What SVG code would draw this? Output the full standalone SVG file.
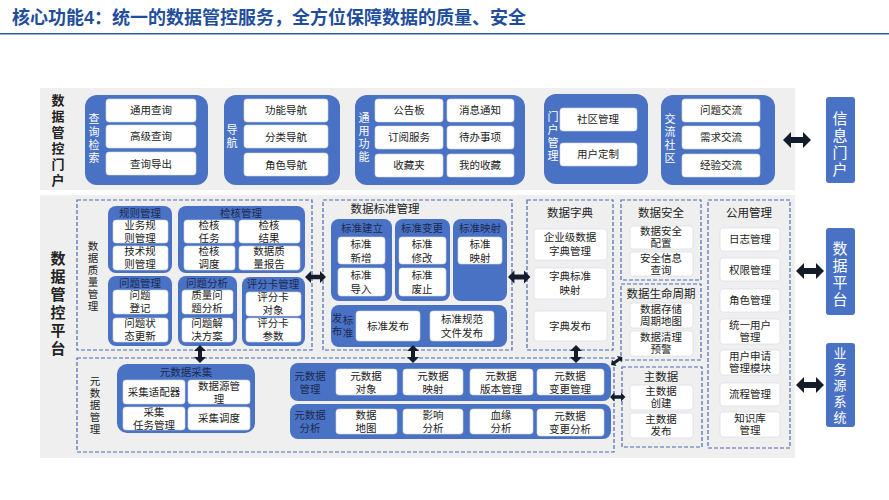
<svg xmlns="http://www.w3.org/2000/svg" width="889" height="500" viewBox="0 0 889 500">
<defs>
<style>
text{font-family:"Liberation Sans","Noto Sans CJK SC",sans-serif;text-anchor:middle;dominant-baseline:central}
.bg{fill:#efefef}
.p{fill:#4a72c4}
.w{fill:#fff;stroke:#d0d6e2;stroke-width:.6}
.t{font-size:10.5px;fill:#222}
.pl{font-size:11px;fill:#fff}
.pt{font-size:10.5px;fill:#1b2a50}
.d{fill:none;stroke:#4a6cb0;stroke-width:1.2;stroke-dasharray:4 2}
.sec{font-size:11.5px;fill:#222}
.big{font-size:15px;font-weight:bold;fill:#222}
.side{fill:#4a72c4}
.st{font-size:15px;fill:#fff}
.ar{fill:#141c2c}
</style>
<path id="dh" d="M0,0 l8,-8 v5 h12 v-5 l8,8 l-8,8 v-5 h-12 v5 z"/>
<path id="dv" d="M0,0 l-6,6 h4 v6 h-4 l6,6 l6,-6 h-4 v-6 h4 z"/>
</defs>
<rect width="889" height="500" fill="#fff"/>
<text x="12" y="18" style="text-anchor:start;font-size:18px;font-weight:bold;fill:#1f4e9c">核心功能4：统一的数据管控服务，全方位保障数据的质量、安全</text>
<rect x="0" y="33" width="889" height="1.5" fill="#2a5aa8"/>

<g id="portal">
<rect class="bg" x="40" y="88" width="755" height="102"/>
<text class="big" style="font-size:13px"><tspan x="58" y="100">数</tspan><tspan x="58" y="116">据</tspan><tspan x="58" y="132">管</tspan><tspan x="58" y="148">控</tspan><tspan x="58" y="164">门</tspan><tspan x="58" y="180">户</tspan></text>
</g>
<g id="query">
<rect class="p" x="85" y="95" width="123" height="90" rx="12"/>
<text class="pl"><tspan x="94" y="119">查</tspan><tspan x="94" y="132">询</tspan><tspan x="94" y="145">检</tspan><tspan x="94" y="158">索</tspan></text>
<rect class="w" x="106" y="99" width="90" height="23" rx="3"/><text class="t" x="151" y="110">通用查询</text>
<rect class="w" x="106" y="125" width="90" height="23" rx="3"/><text class="t" x="151" y="136">高级查询</text>
<rect class="w" x="106" y="152" width="90" height="23" rx="3"/><text class="t" x="151" y="164">查询导出</text>
</g>
<g id="nav">
<rect class="p" x="224" y="95" width="116" height="90" rx="12"/>
<text class="pl"><tspan x="232" y="130">导</tspan><tspan x="232" y="143">航</tspan></text>
<rect class="w" x="244" y="99" width="84" height="23" rx="3"/><text class="t" x="286" y="110">功能导航</text>
<rect class="w" x="244" y="125" width="84" height="23" rx="3"/><text class="t" x="286" y="137">分类导航</text>
<rect class="w" x="244" y="153" width="84" height="23" rx="3"/><text class="t" x="286" y="165">角色导航</text>
</g>
<g id="common">
<rect class="p" x="355" y="95" width="170" height="90" rx="12"/>
<text class="pl"><tspan x="364" y="118">通</tspan><tspan x="364" y="131">用</tspan><tspan x="364" y="144">功</tspan><tspan x="364" y="157">能</tspan></text>
<rect class="w" x="375" y="99" width="68" height="23" rx="3"/><text class="t" x="409" y="110">公告板</text>
<rect class="w" x="447" y="99" width="67" height="23" rx="3"/><text class="t" x="480" y="110">消息通知</text>
<rect class="w" x="375" y="126" width="68" height="23" rx="3"/><text class="t" x="409" y="137">订阅服务</text>
<rect class="w" x="447" y="126" width="67" height="23" rx="3"/><text class="t" x="480" y="137">待办事项</text>
<rect class="w" x="375" y="154" width="68" height="23" rx="3"/><text class="t" x="409" y="165">收藏夹</text>
<rect class="w" x="447" y="154" width="67" height="23" rx="3"/><text class="t" x="480" y="165">我的收藏</text>
</g>
<g id="portalmgmt">
<rect class="p" x="544" y="94" width="104" height="90" rx="12"/>
<text class="pl"><tspan x="553" y="117">门</tspan><tspan x="553" y="130">户</tspan><tspan x="553" y="143">管</tspan><tspan x="553" y="156">理</tspan></text>
<rect class="w" x="560" y="108" width="77" height="23" rx="3"/><text class="t" x="598" y="119">社区管理</text>
<rect class="w" x="560" y="143" width="77" height="23" rx="3"/><text class="t" x="598" y="154">用户定制</text>
</g>
<g id="community">
<rect class="p" x="661" y="95" width="114" height="90" rx="12"/>
<text class="pl"><tspan x="670" y="119">交</tspan><tspan x="670" y="132">流</tspan><tspan x="670" y="145">社</tspan><tspan x="670" y="158">区</tspan></text>
<rect class="w" x="682" y="99" width="78" height="23" rx="3"/><text class="t" x="721" y="110">问题交流</text>
<rect class="w" x="682" y="126" width="78" height="23" rx="3"/><text class="t" x="721" y="137">需求交流</text>
<rect class="w" x="682" y="154" width="78" height="23" rx="3"/><text class="t" x="721" y="165">经验交流</text>
</g>
<g id="infoportal">
<rect class="side" x="826" y="97" width="29" height="86" rx="3"/>
<text class="st"><tspan x="840" y="118">信</tspan><tspan x="840" y="135">息</tspan><tspan x="840" y="152">门</tspan><tspan x="840" y="169">户</tspan></text>
</g>

<g id="platform">
<rect class="bg" x="40" y="195" width="755" height="263"/>
<text class="big"><tspan x="58" y="258">数</tspan><tspan x="58" y="276">据</tspan><tspan x="58" y="294">管</tspan><tspan x="58" y="312">控</tspan><tspan x="58" y="330">平</tspan><tspan x="58" y="348">台</tspan></text>
</g>

<g id="quality">
<rect class="d" x="77" y="200" width="235" height="150"/>
<text class="t"><tspan x="93" y="246">数</tspan><tspan x="93" y="258">据</tspan><tspan x="93" y="270">质</tspan><tspan x="93" y="282">量</tspan><tspan x="93" y="294">管</tspan><tspan x="93" y="306">理</tspan></text>
<rect class="p" x="108" y="206" width="64" height="67" rx="8"/><text class="pt" x="140" y="213">规则管理</text>
<rect class="w" x="113" y="220" width="55" height="23" rx="3"/><text class="t"><tspan x="140" y="225">业务规</tspan><tspan x="140" y="238">则管理</tspan></text>
<rect class="w" x="113" y="246" width="55" height="24" rx="3"/><text class="t"><tspan x="140" y="251">技术规</tspan><tspan x="140" y="264">则管理</tspan></text>
<rect class="p" x="178" y="206" width="127" height="67" rx="8"/><text class="pt" x="241" y="213">检核管理</text>
<rect class="w" x="184" y="220" width="51" height="23" rx="3"/><text class="t"><tspan x="209" y="225">检核</tspan><tspan x="209" y="238">任务</tspan></text>
<rect class="w" x="239" y="220" width="61" height="23" rx="3"/><text class="t"><tspan x="269" y="225">检核</tspan><tspan x="269" y="238">结果</tspan></text>
<rect class="w" x="184" y="246" width="51" height="24" rx="3"/><text class="t"><tspan x="209" y="251">检核</tspan><tspan x="209" y="264">调度</tspan></text>
<rect class="w" x="239" y="246" width="61" height="24" rx="3"/><text class="t"><tspan x="269" y="251">数据质</tspan><tspan x="269" y="264">量报告</tspan></text>
<rect class="p" x="108" y="276" width="64" height="70" rx="8"/><text class="pt" x="140" y="283">问题管理</text>
<rect class="w" x="113" y="290" width="55" height="24" rx="3"/><text class="t"><tspan x="140" y="295">问题</tspan><tspan x="140" y="308">登记</tspan></text>
<rect class="w" x="113" y="318" width="55" height="24" rx="3"/><text class="t"><tspan x="140" y="323">问题状</tspan><tspan x="140" y="336">态更新</tspan></text>
<rect class="p" x="178" y="276" width="59" height="70" rx="8"/><text class="pt" x="207" y="283">问题分析</text>
<rect class="w" x="182" y="290" width="51" height="24" rx="3"/><text class="t"><tspan x="207" y="295">质量问</tspan><tspan x="207" y="308">题分析</tspan></text>
<rect class="w" x="182" y="318" width="51" height="24" rx="3"/><text class="t"><tspan x="207" y="323">问题解</tspan><tspan x="207" y="336">决方案</tspan></text>
<rect class="p" x="242" y="277" width="63" height="69" rx="8"/><text class="pt" x="273" y="284">评分卡管理</text>
<rect class="w" x="246" y="292" width="55" height="24" rx="3"/><text class="t"><tspan x="273" y="297">评分卡</tspan><tspan x="273" y="310">对象</tspan></text>
<rect class="w" x="246" y="318" width="55" height="24" rx="3"/><text class="t"><tspan x="273" y="323">评分卡</tspan><tspan x="273" y="336">参数</tspan></text>
</g>

<g id="standard">
<rect class="d" x="323" y="200" width="189" height="150"/>
<text class="sec" x="385" y="209">数据标准管理</text>
<rect class="p" x="331" y="219" width="61" height="82" rx="8"/><text class="pt" x="362" y="228">标准建立</text>
<rect class="w" x="338" y="237" width="47" height="27" rx="3"/><text class="t"><tspan x="361" y="244">标准</tspan><tspan x="361" y="258">新增</tspan></text>
<rect class="w" x="338" y="268" width="47" height="28" rx="3"/><text class="t"><tspan x="361" y="275">标准</tspan><tspan x="361" y="289">导入</tspan></text>
<rect class="p" x="395" y="219" width="55" height="82" rx="8"/><text class="pt" x="422" y="228">标准变更</text>
<rect class="w" x="399" y="237" width="47" height="27" rx="3"/><text class="t"><tspan x="422" y="244">标准</tspan><tspan x="422" y="258">修改</tspan></text>
<rect class="w" x="399" y="268" width="47" height="28" rx="3"/><text class="t"><tspan x="422" y="275">标准</tspan><tspan x="422" y="289">废止</tspan></text>
<rect class="p" x="453" y="219" width="54" height="82" rx="8"/><text class="pt" x="480" y="228">标准映射</text>
<rect class="w" x="458" y="237" width="44" height="27" rx="3"/><text class="t"><tspan x="480" y="244">标准</tspan><tspan x="480" y="258">映射</tspan></text>
<rect class="p" x="331" y="305" width="176" height="42" rx="8"/>
<text class="pt"><tspan x="337" y="318">发</tspan><tspan x="337" y="331">布</tspan></text>
<text class="pt"><tspan x="348" y="320">标</tspan><tspan x="348" y="333">准</tspan></text>
<rect class="w" x="356" y="311" width="64" height="30" rx="3"/><text class="t" x="388" y="326">标准发布</text>
<rect class="w" x="430" y="311" width="64" height="30" rx="3"/><text class="t"><tspan x="462" y="319">标准规范</tspan><tspan x="462" y="333">文件发布</tspan></text>
</g>

<g id="dictionary">
<rect class="d" x="527" y="200" width="86" height="150"/>
<text class="sec" x="570" y="213">数据字典</text>
<rect class="w" x="534" y="229" width="73" height="31" rx="3"/><text class="t"><tspan x="570" y="237">企业级数据</tspan><tspan x="570" y="251">字典管理</tspan></text>
<rect class="w" x="534" y="268" width="73" height="31" rx="3"/><text class="t"><tspan x="570" y="276">字典标准</tspan><tspan x="570" y="290">映射</tspan></text>
<rect class="w" x="534" y="311" width="73" height="30" rx="3"/><text class="t" x="570" y="326">字典发布</text>
</g>

<g id="security">
<rect class="d" x="621" y="200" width="80" height="80"/>
<text class="sec" x="661" y="213">数据安全</text>
<rect class="w" x="630" y="226" width="63" height="23" rx="3"/><text class="t"><tspan x="661" y="231">数据安全</tspan><tspan x="661" y="243">配置</tspan></text>
<rect class="w" x="630" y="252" width="63" height="24" rx="3"/><text class="t"><tspan x="661" y="258">安全信息</tspan><tspan x="661" y="270">查询</tspan></text>
</g>
<g id="lifecycle">
<rect class="d" x="621" y="284" width="80" height="76"/>
<text class="sec" x="661" y="294">数据生命周期</text>
<rect class="w" x="630" y="303" width="63" height="25" rx="3"/><text class="t"><tspan x="661" y="309">数据存储</tspan><tspan x="661" y="321">周期地图</tspan></text>
<rect class="w" x="630" y="331" width="63" height="25" rx="3"/><text class="t"><tspan x="661" y="337">数据清理</tspan><tspan x="661" y="349">预警</tspan></text>
</g>
<g id="master">
<rect class="d" x="622" y="367" width="80" height="80"/>
<text class="sec" x="661" y="377">主数据</text>
<rect class="w" x="630" y="385" width="63" height="25" rx="3"/><text class="t"><tspan x="661" y="391">主数据</tspan><tspan x="661" y="403">创建</tspan></text>
<rect class="w" x="630" y="413" width="63" height="25" rx="3"/><text class="t"><tspan x="661" y="419">主数据</tspan><tspan x="661" y="431">发布</tspan></text>
</g>
<g id="publicmgmt">
<rect class="d" x="708" y="200" width="82" height="248"/>
<text class="sec" x="749" y="213">公用管理</text>
<rect class="w" x="720" y="228" width="60" height="23" rx="3"/><text class="t" x="750" y="239">日志管理</text>
<rect class="w" x="720" y="258" width="60" height="23" rx="3"/><text class="t" x="750" y="270">权限管理</text>
<rect class="w" x="720" y="289" width="60" height="23" rx="3"/><text class="t" x="750" y="300">角色管理</text>
<rect class="w" x="720" y="319" width="60" height="25" rx="3"/><text class="t"><tspan x="750" y="325">统一用户</tspan><tspan x="750" y="337">管理</tspan></text>
<rect class="w" x="720" y="350" width="60" height="25" rx="3"/><text class="t"><tspan x="750" y="356">用户申请</tspan><tspan x="750" y="368">管理模块</tspan></text>
<rect class="w" x="720" y="383" width="60" height="23" rx="3"/><text class="t" x="750" y="394">流程管理</text>
<rect class="w" x="720" y="412" width="60" height="25" rx="3"/><text class="t"><tspan x="750" y="418">知识库</tspan><tspan x="750" y="430">管理</tspan></text>
</g>

<g id="metadata">
<rect class="d" x="77" y="358" width="537" height="94"/>
<text class="t"><tspan x="95" y="381">元</tspan><tspan x="95" y="393">数</tspan><tspan x="95" y="405">据</tspan><tspan x="95" y="417">管</tspan><tspan x="95" y="429">理</tspan></text>
<rect class="p" x="117" y="364" width="138" height="69" rx="10"/><text class="pt" x="186" y="372">元数据采集</text>
<rect class="w" x="123" y="380" width="62" height="24" rx="3"/><text class="t" x="154" y="392">采集适配器</text>
<rect class="w" x="188" y="380" width="62" height="24" rx="3"/><text class="t"><tspan x="219" y="386">数据源管</tspan><tspan x="219" y="399">理</tspan></text>
<rect class="w" x="123" y="407" width="62" height="23" rx="3"/><text class="t"><tspan x="154" y="412">采集</tspan><tspan x="154" y="425">任务管理</tspan></text>
<rect class="w" x="188" y="407" width="62" height="23" rx="3"/><text class="t" x="219" y="418">采集调度</text>
<rect class="p" x="290" y="363" width="321" height="38" rx="8"/>
<text class="pt"><tspan x="310" y="376">元数据</tspan><tspan x="310" y="389">管理</tspan></text>
<rect class="w" x="336" y="369" width="61" height="26" rx="3"/><text class="t"><tspan x="366" y="376">元数据</tspan><tspan x="366" y="389">对象</tspan></text>
<rect class="w" x="403" y="369" width="60" height="26" rx="3"/><text class="t"><tspan x="433" y="376">元数据</tspan><tspan x="433" y="389">映射</tspan></text>
<rect class="w" x="470" y="369" width="63" height="26" rx="3"/><text class="t"><tspan x="501" y="376">元数据</tspan><tspan x="501" y="389">版本管理</tspan></text>
<rect class="w" x="537" y="369" width="67" height="26" rx="3"/><text class="t"><tspan x="570" y="376">元数据</tspan><tspan x="570" y="389">变更管理</tspan></text>
<rect class="p" x="290" y="404" width="321" height="35" rx="8"/>
<text class="pt"><tspan x="310" y="415">元数据</tspan><tspan x="310" y="428">分析</tspan></text>
<rect class="w" x="336" y="409" width="61" height="25" rx="3"/><text class="t"><tspan x="366" y="415">数据</tspan><tspan x="366" y="428">地图</tspan></text>
<rect class="w" x="403" y="409" width="60" height="25" rx="3"/><text class="t"><tspan x="433" y="415">影响</tspan><tspan x="433" y="428">分析</tspan></text>
<rect class="w" x="470" y="409" width="63" height="25" rx="3"/><text class="t"><tspan x="501" y="415">血缘</tspan><tspan x="501" y="428">分析</tspan></text>
<rect class="w" x="537" y="409" width="67" height="27" rx="3"/><text class="t"><tspan x="570" y="416">元数据</tspan><tspan x="570" y="429">变更分析</tspan></text>
</g>

<g id="dataplatform">
<rect class="side" x="826" y="228" width="29" height="87" rx="3"/>
<text class="st"><tspan x="840" y="248">数</tspan><tspan x="840" y="265">据</tspan><tspan x="840" y="282">平</tspan><tspan x="840" y="299">台</tspan></text>
</g>
<g id="bizsource">
<rect class="side" x="826" y="343" width="29" height="84" rx="3"/>
<text class="st" style="font-size:13px"><tspan x="840" y="353">业</tspan><tspan x="840" y="369">务</tspan><tspan x="840" y="385">源</tspan><tspan x="840" y="401">系</tspan><tspan x="840" y="417">统</tspan></text>
</g>

<g id="connectors" class="ar">
<use href="#dh" x="783" y="140"/>
<use href="#dh" x="796" y="271"/>
<use href="#dh" x="796" y="385"/>
<use href="#dh" x="305" y="277" transform="translate(305 277) scale(.75) translate(-305 -277)"/>
<use href="#dh" x="508" y="277" transform="translate(508 277) scale(.8) translate(-508 -277)"/>
<use href="#dh" x="610" y="397" transform="translate(610 397) scale(.55) translate(-610 -397)"/>
<use href="#dh" x="611" y="365" transform="translate(611 365) rotate(-35) scale(.5) translate(-611 -365)"/>
<use href="#dv" x="200" y="345"/>
<use href="#dv" x="413" y="345"/>
<use href="#dv" x="576" y="345"/>
</g>
</svg>
